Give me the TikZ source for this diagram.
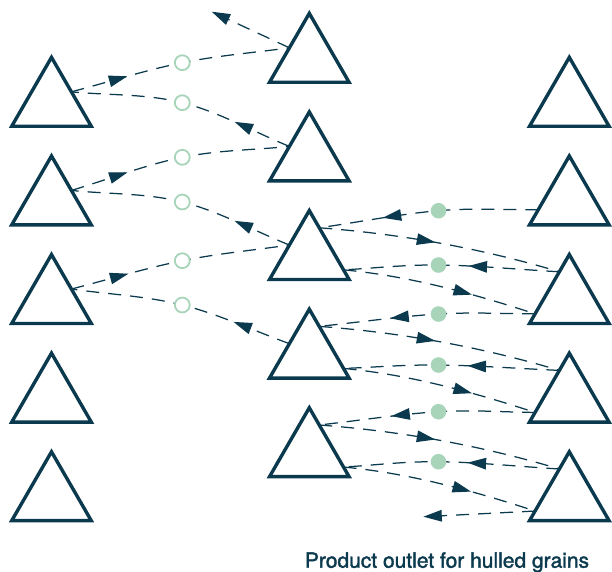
\documentclass[tikz,border=0pt]{standalone}
\usepackage{fontspec}
\setmainfont{TeX Gyre Heros}
\newfontfamily\captionfont[FakeBold=1.6]{TeX Gyre Heros}
\usetikzlibrary{shapes.geometric, arrows.meta, decorations.markings, calc, backgrounds}

\definecolor{ink}{HTML}{0B3A4E}
\definecolor{mint}{HTML}{A8D5BA}

% smooth curve from #1 through #2 to #3
\newcommand\passvia[3]{(#1) .. controls ($(#1)!0.3333!(#2)$) and ($(#2)+0.1667*(#1)-0.1667*(#3)$) .. (#2)
  .. controls ($(#2)+0.1667*(#3)-0.1667*(#1)$) and ($(#3)!0.3333!(#2)$) .. (#3)}

\begin{document}
\begin{tikzpicture}[x=1pt, y=-1pt,
  tri/.style={regular polygon, regular polygon sides=3, minimum size=91.9pt,
    inner sep=0pt, outer sep=0pt, draw=ink, line width=3.4pt},
  ring/.style={circle, minimum size=14.9pt, inner sep=0pt, outer sep=0pt,
    draw=mint, line width=1.8pt, fill=white},
  dot/.style={circle, minimum size=15.6pt, inner sep=0pt, outer sep=0pt, fill=mint},
  flow/.style={draw=ink, line width=1.25pt, dash pattern=on 13pt off 9pt},
  head/.tip={Triangle[length=18.5pt, width=11.5pt]},
  tipat/.style={postaction={decorate, decoration={markings,
    mark=at position #1 with {\arrow{head}}}}},
]
\useasboundingbox (0,0) rectangle (612,571);

% three columns of storage triangles
\foreach \i [evaluate=\i as \cy using {103.3+98.6*(\i-1)},
             evaluate=\i as \my using {59.3+98.6*(\i-1)}] in {1,...,5}{
  \node[tri] (L\i) at (51.5,\cy) {};
  \node[tri] (M\i) at (309.3,\my) {};
  \node[tri] (R\i) at (569.3,\cy) {};
  \coordinate (Le\i) at (L\i.side 3);
  \coordinate (Mw\i) at (M\i.side 1);
  \coordinate (Mu\i) at ($(M\i.corner 1)!0.25!(M\i.corner 3)$);
  \coordinate (Ml\i) at ($(M\i.corner 1)!0.86!(M\i.corner 3)$);
  \coordinate (Ru\i) at ($(R\i.corner 1)!0.25!(R\i.corner 2)$);
  \coordinate (Rl\i) at ($(R\i.corner 1)!0.86!(R\i.corner 2)$);
}
\coordinate (Rg) at ($(R2.corner 1)!0.78!(R2.corner 2)$);
\coordinate (topend) at (211.7,11.7);
\coordinate (botend) at (423.3,516.7);

% open junctions on the left
\node[ring] (a1) at (182.3,62.7) {};
\node[ring] (a2) at (182.3,102.7) {};
\node[ring] (a3) at (182.3,157.3) {};
\node[ring] (a4) at (182.3,202) {};
\node[ring] (a5) at (182.3,260.7) {};
\node[ring] (a6) at (182.3,305) {};

% filled junctions on the right
\node[dot] (g1) at (438.5,210.7) {};
\node[dot] (g2) at (438.5,265) {};
\node[dot] (g3) at (438.5,314) {};
\node[dot] (g4) at (438.5,365) {};
\node[dot] (g5) at (438.5,411.7) {};
\node[dot] (g6) at (438.5,461.7) {};

\node[text=ink, font=\captionfont\fontsize{21}{24}\selectfont, anchor=base] (caption)
  at (447,567.7) {Product outlet for hulled grains};

\begin{pgfonlayer}{background}
  % left half
  \draw[flow, -{head}] (Mw1) -- (topend);
  \draw[flow, tipat=58pt] \passvia{Le1}{a1.center}{Mw1};
  \draw[flow, tipat=60pt] \passvia{Mw2}{a2.center}{Le1};
  \draw[flow, tipat=59pt] \passvia{Le2}{a3.center}{Mw2};
  \draw[flow, tipat=60pt] \passvia{Mw3}{a4.center}{Le2};
  \draw[flow, tipat=59pt] \passvia{Le3}{a5.center}{Mw3};
  \draw[flow, tipat=60pt] \passvia{Mw4}{a6.center}{Le3};
  % right half
  \draw[flow, tipat=156pt] \passvia{Rg}{g1.center}{Mu3};
  \draw[flow, tipat=117pt] (Mu3) .. controls +(80,6) and +(-80,-24) .. (Ru3);
  \draw[flow, tipat=91pt] \passvia{Ru3}{g2.center}{Ml3};
  \draw[flow, tipat=131pt] (Ml3) .. controls +(64,6) and +(-64,-21) .. (Rl3);
  \draw[flow, tipat=145pt] \passvia{Rl3}{g3.center}{Mu4};
  \draw[flow, tipat=117pt] (Mu4) .. controls +(80,6) and +(-80,-24) .. (Ru4);
  \draw[flow, tipat=92pt] \passvia{Ru4}{g4.center}{Ml4};
  \draw[flow, tipat=131pt] (Ml4) .. controls +(64,6) and +(-64,-21) .. (Rl4);
  \draw[flow, tipat=144pt] \passvia{Rl4}{g5.center}{Mu5};
  \draw[flow, tipat=117pt] (Mu5) .. controls +(80,6) and +(-80,-24) .. (Ru5);
  \draw[flow, tipat=92pt] \passvia{Ru5}{g6.center}{Ml5};
  \draw[flow, tipat=130pt] (Ml5) .. controls +(64,6) and +(-64,-21) .. (Rl5);
  \draw[flow, -{head}] (Rl5) -- (botend);
\end{pgfonlayer}
\end{tikzpicture}
\end{document}
